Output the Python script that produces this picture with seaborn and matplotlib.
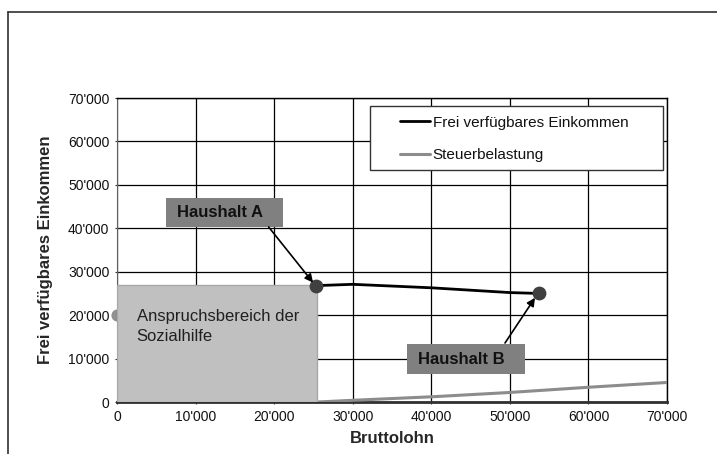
import matplotlib
matplotlib.use("Agg")
import matplotlib.pyplot as plt
from matplotlib.patches import Rectangle
from matplotlib.lines import Line2D
from matplotlib.ticker import FuncFormatter
import pandas as pd
import seaborn as sns

# ---- data ----
einkommen_x = [25300, 30000, 40000, 50000, 53700]
einkommen_y = [26800, 27100, 26300, 25200, 25000]
steuer_x = [0, 20000, 25500, 30000, 40000, 50000, 60000, 70000]
steuer_y = [0, 0, 0, 400, 1200, 2200, 3400, 4500]
sozial_x = [0]
sozial_y = [20000]
haushalte = ["Haushalt A", "Haushalt B"]
haushalt_x = [25300, 53700]
haushalt_y = [26800, 25000]

sns.set_style("white")
plt.rcParams["font.family"] = ["Liberation Sans", "DejaVu Sans"]

fig = plt.figure(figsize=(7.17, 4.54), dpi=100)
ax = fig.add_axes([0.1632, 0.1145, 0.7671, 0.6696])

# outer frame (cropped on right/bottom)
fig.add_artist(Line2D([0.0112, 0.0112], [0.0, 0.9736], transform=fig.transFigure,
                      color="#303030", lw=1.2))
fig.add_artist(Line2D([0.0112, 1.0], [0.9736, 0.9736], transform=fig.transFigure,
                      color="#303030", lw=1.2))

df_e = pd.DataFrame({"x": einkommen_x, "y": einkommen_y})
df_s = pd.DataFrame({"x": steuer_x, "y": steuer_y})

sns.lineplot(data=df_s, x="x", y="y", ax=ax, color="#8c8c8c", lw=2.2,
             label="Steuerbelastung", zorder=3)
sns.lineplot(data=df_e, x="x", y="y", ax=ax, color="black", lw=2,
             label="Frei verfügbares Einkommen", zorder=4)
ax.scatter(sozial_x, sozial_y, s=60, color="#909090", zorder=2, clip_on=False)

# social assistance area
ax.add_patch(Rectangle((0, 0), 25500, 27000, facecolor="#c0c0c0",
                       edgecolor="#a8a8a8", lw=1, zorder=3))
ax.text(2500, 17400, "Anspruchsbereich der\nSozialhilfe", fontsize=12,
        color="#202020", va="center", ha="left", zorder=5, linespacing=1.35)

ax.scatter(haushalt_x, haushalt_y, s=80, color="#404040", zorder=5)

# Haushalt labels
boxes = [(6240, 40300, 14890, 6670), (36900, 6450, 15030, 6910)]
text_pos = [(7650, 43600), (38300, 9900)]
arrows = [((19300, 40300), (24950, 27500)), ((49380, 13590), (53200, 24000))]
for name, (bx, by, bw, bh), (tx, ty), (start, end) in zip(haushalte, boxes, text_pos, arrows):
    ax.add_patch(Rectangle((bx, by), bw, bh, facecolor="#808080", edgecolor="none",
                           zorder=6))
    ax.text(tx, ty, name, fontsize=12, fontweight="bold", color="#111111",
            va="center", ha="left", zorder=7)
    ax.annotate("", xy=end, xytext=start,
                arrowprops=dict(arrowstyle="-|>", color="black", lw=1.2,
                                mutation_scale=12, shrinkA=0, shrinkB=0),
                zorder=7)

ax.set_xlim(0, 70000)
ax.set_ylim(0, 70000)
ax.set_xticks(range(0, 70001, 10000))
ax.set_yticks(range(0, 70001, 10000))
fmt = FuncFormatter(lambda v, p: "0" if v == 0 else f"{int(v):,}".replace(",", "'"))
ax.xaxis.set_major_formatter(fmt)
ax.yaxis.set_major_formatter(fmt)
ax.tick_params(axis="both", labelsize=10, length=3, direction="inout",
               color="#333333", pad=4, labelcolor="#111111")
ax.tick_params(axis="x", bottom=True)
ax.tick_params(axis="y", left=True)

ax.grid(True, color="black", lw=0.9)
ax.set_axisbelow(True)
for side in ["top", "right"]:
    ax.spines[side].set_color("black")
    ax.spines[side].set_linewidth(1)
ax.spines["left"].set_color("#606060")
ax.spines["bottom"].set_color("#303030")
ax.spines["bottom"].set_linewidth(2)

ax.set_xlabel("Bruttolohn", fontsize=12, fontweight="bold", labelpad=5)
ax.set_ylabel("Frei verfügbares Einkommen", fontsize=12, fontweight="bold",
              labelpad=11)

# legend: frame drawn separately so it can be as wide as in the reference
ax.add_patch(Rectangle((0.46, 0.763), 0.5327, 0.2107, transform=ax.transAxes,
                       facecolor="white", edgecolor="#333333", lw=1, zorder=9))
handles, labels = ax.get_legend_handles_labels()
leg = ax.legend(handles[::-1], labels[::-1], loc="center left",
                bbox_to_anchor=(0.5145, 0.866), fontsize=11, frameon=False,
                borderpad=0, labelspacing=1.2, handlelength=1.95,
                handletextpad=0.2, borderaxespad=0)
leg.set_zorder(10)
for t in leg.get_texts():
    t.set_color("#111111")

fig.savefig("out.png", dpi=100)
